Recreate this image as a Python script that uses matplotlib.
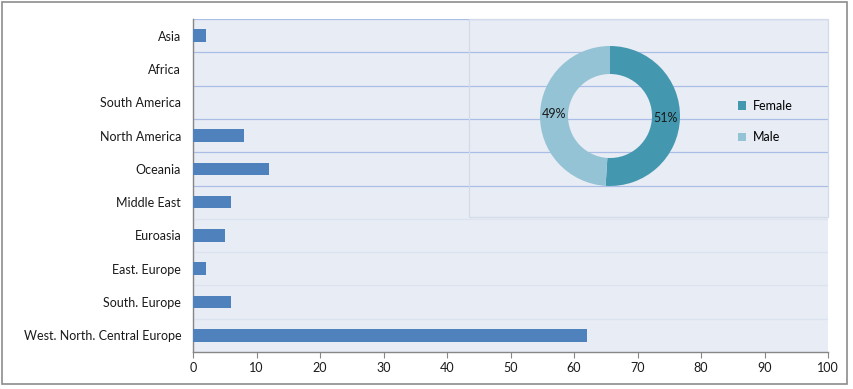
import matplotlib
matplotlib.use("Agg")
import matplotlib.pyplot as plt
from matplotlib.patches import Rectangle, Patch
import numpy as np

categories = ["Asia", "Africa", "South America", "North America", "Oceania",
              "Middle East", "Euroasia", "East. Europe", "South. Europe",
              "West. North. Central Europe"]
values = [2, 0, 0, 8, 12, 6, 5, 2, 6, 62]
x_ticks = [0, 10, 20, 30, 40, 50, 60, 70, 80, 90, 100]

gender_labels = ["Female", "Male"]
gender_values = [51, 49]
gender_colors = ["#4398B0", "#93C3D4"]

plt.rcParams['font.family'] = ['Lato', 'DejaVu Sans']
FS = 9.0

W, H = 854, 389
fig = plt.figure(figsize=(W / 100, H / 100), dpi=100)
fig.patch.set_facecolor("white")

def fx(px):
    return px / W

def fy(py):
    return 1 - py / H

# outer border
fig.add_artist(Rectangle((fx(2), fy(384)), fx(845), 382 / H, transform=fig.transFigure,
                         fill=False, edgecolor="#8C8C8C", linewidth=1.2))

bg = "#E8ECF4"
ax = fig.add_axes([fx(193), fy(352), fx(828 - 193), (352 - 19) / H])
ax.set_facecolor(bg)
y = np.arange(len(categories))
ax.barh(y, values, height=0.38, color="#4F81BD", zorder=3)
ax.set_ylim(len(categories) - 0.5, -0.5)
ax.set_xlim(0, 100)
ax.set_yticks(y)
ax.set_yticklabels(categories, fontsize=FS, color="#1a1a1a")
ax.tick_params(axis='y', length=0, pad=8.5)
ax.set_xticks(x_ticks)
ax.set_xticklabels([str(t) for t in x_ticks], fontsize=FS, color="#1a1a1a")
ax.tick_params(axis='x', length=4, color="#868686", direction='out', pad=3)
for s in ["top", "right"]:
    ax.spines[s].set_visible(False)
for s in ["left", "bottom"]:
    ax.spines[s].set_color("#868686")
    ax.spines[s].set_linewidth(1.0)

for b in np.arange(-0.5, len(categories) - 1, 1.0):
    col = "#A9BDE6" if b <= 4.5 else "#DCE3F0"
    ax.axhline(b, color=col, linewidth=0.9, zorder=1)

# pie plot-area rectangle
fig.add_artist(Rectangle((fx(469), fy(217)), fx(828 - 469), (217 - 19) / H,
                         transform=fig.transFigure, fill=False,
                         edgecolor="#D3DBEB", linewidth=0.9, zorder=2))

# donut
cx, cy, r = 610, 116, 70
pax = fig.add_axes([fx(cx - r), fy(cy + r), fx(2 * r), 2 * r / H])
pax.set_facecolor("none")
wedges, texts, autotexts = pax.pie(gender_values, colors=gender_colors, startangle=90,
                                   counterclock=False, radius=1.0,
                                   wedgeprops=dict(width=0.4, linewidth=0),
                                   autopct=lambda p: f"{p:.0f}%", pctdistance=0.8)
for t in autotexts:
    t.set_fontsize(FS)
    t.set_color("#1a1a1a")
pax.set_xlim(-1, 1)
pax.set_ylim(-1, 1)
pax.set_aspect("equal")
pax.axis("off")

handles = [Patch(facecolor=c, edgecolor="none") for c in gender_colors]
fig.legend(handles, gender_labels, loc="center left",
           bbox_to_anchor=(fx(727), fy(121.5)), frameon=False, fontsize=FS,
           handlelength=0.65, handleheight=0.65, handletextpad=0.5, labelspacing=1.55)

fig.savefig("out.png", dpi=100, facecolor="white")
